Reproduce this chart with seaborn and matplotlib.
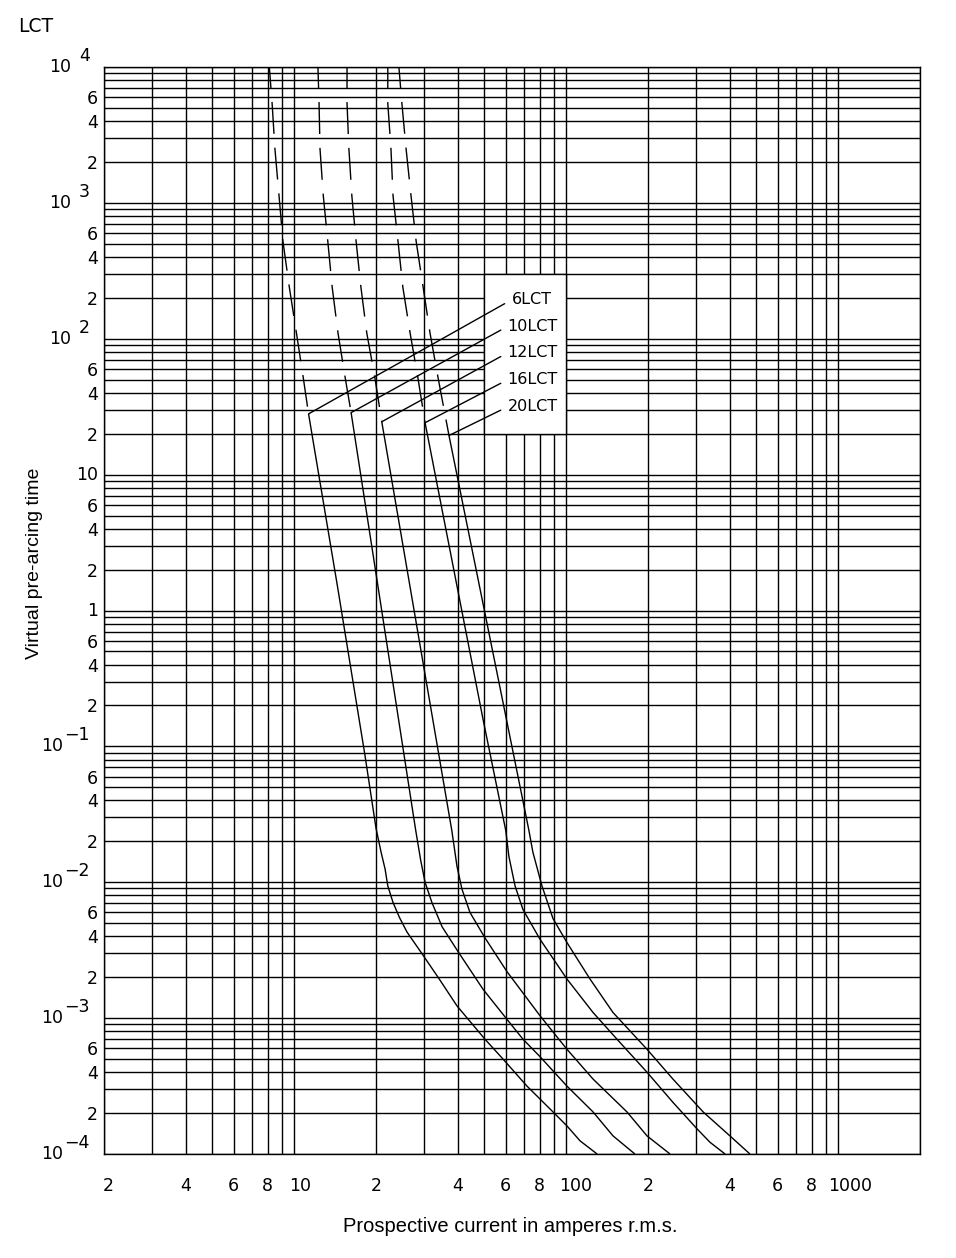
import matplotlib
matplotlib.use("Agg")
import matplotlib.pyplot as plt
from matplotlib.patches import Rectangle
from matplotlib.ticker import FixedLocator, FixedFormatter, NullFormatter
from matplotlib.transforms import blended_transform_factory, ScaledTranslation
import pandas as pd
import seaborn as sns

ratings = ["6LCT", "10LCT", "12LCT", "16LCT", "20LCT"]

# long-time (dashed) branch: prospective current [A], pre-arcing time [s]
lct6_dash_i = [8.05, 8.3, 8.5, 8.8, 9.1, 9.6, 10.2, 10.8, 11.3]
lct6_dash_t = [12000, 5400, 2500, 1130, 520, 240, 110, 52, 28]
lct10_dash_i = [12.2, 12.35, 12.45, 12.8, 13.3, 13.8, 14.5, 15.4, 16.2]
lct10_dash_t = [12000, 5400, 2500, 1130, 520, 240, 110, 52, 28.6]
lct12_dash_i = [15.65, 15.65, 15.9, 16.3, 16.9, 17.6, 18.5, 19.8, 21.0]
lct12_dash_t = [12000, 5400, 2500, 1130, 520, 240, 110, 52, 24.5]
lct16_dash_i = [22.1, 22.1, 22.7, 23.1, 24.1, 25.1, 26.7, 28.5, 30.3]
lct16_dash_t = [12000, 5400, 2500, 1130, 520, 240, 110, 52, 24.1]
lct20_dash_i = [24.1, 24.9, 25.8, 26.9, 28.1, 29.8, 31.6, 33.8, 37.1]
lct20_dash_t = [12000, 5400, 2500, 1130, 520, 240, 110, 52, 19.4]

# short-time (solid) branch
lct6_i = [11.3, 14.4, 18.2, 20.0, 20.9, 21.6, 22.1, 23.1, 24.4, 26.0, 29.8,
          34.4, 39.7, 50.3, 58.6, 71.8, 89.5, 100.7, 112.5, 130]
lct6_t = [28, 1.55, 0.087, 0.025, 0.0165, 0.0125, 0.0094, 0.0071, 0.0055,
          0.0043, 0.0029, 0.0019, 0.00123, 0.0007, 0.0005, 0.000316,
          0.000204, 0.000161, 0.000125, 0.0001]
lct10_i = [16.2, 28.0, 29.2, 30.3, 32.1, 35.0, 40.0, 49.5, 60.6, 69.4, 80.2,
           100.7, 125.6, 148.7, 179]
lct10_t = [28.6, 0.024, 0.0145, 0.01, 0.0071, 0.0047, 0.0031, 0.00163,
           0.00098, 0.0007, 0.00052, 0.000316, 0.000204, 0.000136, 0.0001]
lct12_i = [21.0, 38.0, 39.7, 41.4, 44.3, 50.3, 60.6, 80.2, 100.7, 125.6,
           167.4, 198.3, 241]
lct12_t = [24.5, 0.024, 0.0131, 0.0089, 0.006, 0.0039, 0.0022, 0.00104,
           0.00059, 0.000356, 0.000204, 0.000136, 0.0001]
lct16_i = [30.3, 49.5, 60.0, 61.6, 64.9, 69.4, 80.2, 100.7, 125.6, 153.8,
           198.3, 247, 303, 338, 384]
lct16_t = [24.1, 0.158, 0.024, 0.0155, 0.0094, 0.0063, 0.0038, 0.00194,
           0.0011, 0.0007, 0.0004, 0.00024, 0.000153, 0.000122, 0.0001]
lct20_i = [37.1, 73.0, 75.5, 81.5, 89.5, 100.7, 122.4, 148.7, 198.3, 247,
           319, 400, 474]
lct20_t = [19.4, 0.024, 0.0166, 0.0094, 0.0054, 0.0036, 0.00194, 0.0011,
           0.00059, 0.000356, 0.000204, 0.000136, 0.0001]

# tick labels
x_ticks = [2, 4, 6, 8, 10, 20, 40, 60, 80, 100, 200, 400, 600, 800, 1000]
x_tick_labels = ["2", "4", "6", "8", "10", "2", "4", "6", "8", "100",
                 "2", "4", "6", "8", "1000"]
y_ticks = [m * 10.0 ** k for k in range(-4, 4) for m in (2, 4, 6)]
y_tick_labels = ["2", "4", "6"] * 8
y_decades = [4, 3, 2, 1, 0, -1, -2, -3, -4]
y_decade_base = ["10", "10", "10", "10", "1", "10", "10", "10", "10"]
y_decade_exp = ["4", "3", "2", "", "", "\u22121", "\u22122", "\u22123", "\u22124"]

dash_i = [lct6_dash_i, lct10_dash_i, lct12_dash_i, lct16_dash_i, lct20_dash_i]
dash_t = [lct6_dash_t, lct10_dash_t, lct12_dash_t, lct16_dash_t, lct20_dash_t]
solid_i = [lct6_i, lct10_i, lct12_i, lct16_i, lct20_i]
solid_t = [lct6_t, lct10_t, lct12_t, lct16_t, lct20_t]

frames = []
for name, di, dt, si, st in zip(ratings, dash_i, dash_t, solid_i, solid_t):
    frames.append(pd.DataFrame({"current": di, "time": dt, "part": "dashed",
                                "seg": name + " dashed"}))
    frames.append(pd.DataFrame({"current": si, "time": st, "part": "solid",
                                "seg": name + " solid"}))
curves = pd.concat(frames, ignore_index=True)

sns.set_theme(style="white")
plt.rcParams["font.family"] = ["DejaVu Sans"]
plt.rcParams["text.color"] = "black"
plt.rcParams["axes.labelcolor"] = "black"
plt.rcParams["lines.solid_capstyle"] = "butt"
plt.rcParams["lines.dash_capstyle"] = "butt"

fig = plt.figure(figsize=(9.56, 12.58), dpi=100)
ax = fig.add_axes([104 / 956, 1 - 1154 / 1258, 816 / 956, 1087 / 1258])
ax.set_xscale("log")
ax.set_yscale("log")

sns.lineplot(data=curves, x="current", y="time", units="seg", style="part",
             dashes={"dashed": (23, 10), "solid": ""}, estimator=None,
             sort=False, color="black", linewidth=1.0, legend=False, ax=ax,
             zorder=3)

ax.set_xlim(2, 2000)
ax.set_ylim(1e-4, 1e4)
ax.set_xlabel("")
ax.set_ylabel("")

grid_x = [m * 10.0 ** k for k in range(0, 4) for m in range(1, 10)
          if 2 <= m * 10 ** k <= 2000]
grid_y = [m * 10.0 ** k for k in range(-4, 4) for m in range(1, 10)] + [1e4]

ax.xaxis.set_major_locator(FixedLocator(x_ticks))
ax.xaxis.set_major_formatter(FixedFormatter(x_tick_labels))
ax.xaxis.set_minor_locator(FixedLocator(grid_x))
ax.xaxis.set_minor_formatter(NullFormatter())
ax.yaxis.set_major_locator(FixedLocator(y_ticks))
ax.yaxis.set_major_formatter(FixedFormatter(y_tick_labels))
ax.yaxis.set_minor_locator(FixedLocator(grid_y))
ax.yaxis.set_minor_formatter(NullFormatter())

ax.grid(True, which="both", color="black", linewidth=1.0)
ax.set_axisbelow(True)
ax.tick_params(which="both", length=0, labelsize=12.5, colors="black")
ax.tick_params(axis="x", pad=16.5)
ax.tick_params(axis="y", pad=4.3)
for sp in ax.spines.values():
    sp.set_color("black")
    sp.set_linewidth(1.0)

# blank box behind the rating labels
ax.add_patch(Rectangle((50, 20), 50, 280, facecolor="white", edgecolor="black",
                       linewidth=1.0, zorder=1))

label_pos = [(63, 193.5), (61, 123.6), (61, 78.9), (61, 50), (61, 31.6)]
for name, si, st, (lx, ly) in zip(ratings, solid_i, solid_t, label_pos):
    ax.annotate(name, xy=(si[0], st[0]), xytext=(lx, ly), textcoords="data",
                ha="left", va="center", fontsize=11.5, color="black", zorder=4,
                arrowprops=dict(arrowstyle="-", color="black", lw=1.0,
                                shrinkA=3, shrinkB=0, relpos=(0, 0.5)))


def px(dx, dy):
    return ScaledTranslation(dx / 100, dy / 100, fig.dpi_scale_trans)


ytr = blended_transform_factory(ax.transAxes, ax.transData)
for e, base, sup in zip(y_decades, y_decade_base, y_decade_exp):
    v = 10.0 ** e
    if sup == "":
        ax.text(0, v, base, transform=ytr + px(-6, 0), ha="right",
                va="center", fontsize=12.5)
    else:
        shift = -41 if sup.startswith("\u2212") else -33
        ax.text(0, v, base, transform=ytr + px(shift, 0), ha="right",
                va="center", fontsize=12.5)
        ax.text(0, v, sup, transform=ytr + px(-14, 11), ha="right",
                va="center", fontsize=12.5)

fig.canvas.draw()
x_shift = {"10": 6, "100": 10, "1000": 12}
for i, lab in enumerate(ax.get_xticklabels()):
    dx = x_shift.get(lab.get_text(), 0)
    if i == 0:
        dx = 4
    if dx:
        lab.set_transform(lab.get_transform() + px(dx, 0))

fig.text(18 / 956, 1 - 26 / 1258, "LCT", ha="left", va="center", fontsize=13.5)
fig.text(35 / 956, 1 - 563 / 1258, "Virtual pre-arcing time", rotation=90,
         ha="center", va="center", fontsize=14, family=["Liberation Sans"])
fig.text(510 / 956, 1 - 1226 / 1258, "Prospective current in amperes r.m.s.",
         ha="center", va="center", fontsize=14.5, family=["Liberation Sans"])

fig.savefig("out.png", dpi=100)
